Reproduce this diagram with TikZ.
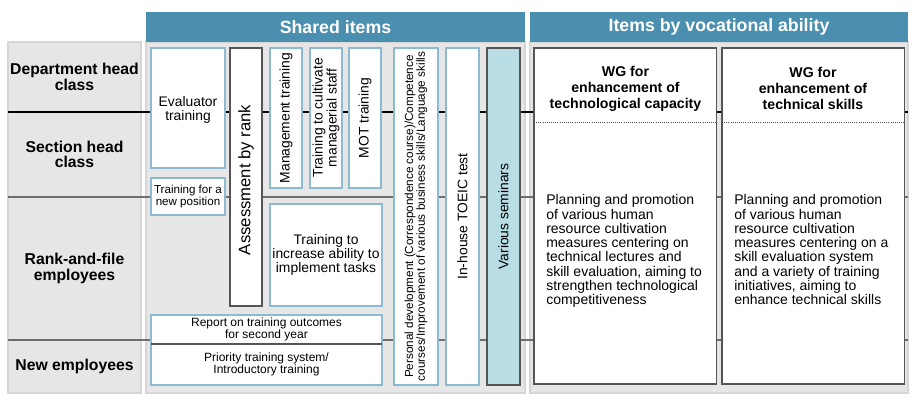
\documentclass[tikz,border=0pt]{standalone}
\usepackage{fontspec}
\setmainfont{Liberation Sans}
\definecolor{hdrblue}{HTML}{4A8FAF}
\definecolor{bggrey}{HTML}{E6E6E6}
\definecolor{bgedge}{HTML}{D6D6D6}
\definecolor{boxblue}{HTML}{8CBAD0}
\definecolor{darkedge}{HTML}{555555}
\definecolor{semfill}{HTML}{B8DDE5}
\definecolor{rowline}{HTML}{6E6E6E}
\tikzset{
  panel/.style={fill=bggrey, draw=bgedge, line width=1.1pt},
  hdr/.style={fill=hdrblue},
  hdrtext/.style={text=white, font=\bfseries\fontsize{13.3}{13.3}\selectfont},
  rowlab/.style={align=center, inner sep=0pt, font=\bfseries\fontsize{11.8}{11.8}\selectfont},
  bluebox/.style={fill=white, draw=boxblue, line width=1.1pt},
  darkbox/.style={fill=white, draw=darkedge, line width=1.1pt},
  txt/.style={align=center, inner sep=0pt, font=\fontsize{10.4}{10.4}\selectfont},
  smalltxt/.style={align=center, inner sep=0pt, font=\fontsize{9}{9.2}\selectfont},
  wghead/.style={align=center, inner sep=0pt, font=\bfseries\fontsize{10.6}{12}\selectfont},
  wgbody/.style={align=left, anchor=north west, inner sep=0pt, font=\fontsize{10.5}{10.7}\selectfont},
}
\begin{document}
\begin{tikzpicture}[x=0.75pt, y=-0.75pt]
    \useasboundingbox (0,0) rectangle (915,402);
    % grey panels and headers
    \draw[panel] (8,42) rectangle (141,393);
    \draw[panel] (146,42) rectangle (525,393);
    \draw[panel] (530,42) rectangle (908,393);
    \fill[hdr] (146,12) rectangle (525,42);
    \fill[hdr] (530,12) rectangle (908,42);
    \node[hdrtext] (shared) at (335.5,27) {Shared items};
    \node[hdrtext] (vocational) at (719,27) {Items by vocational ability};
    % row lines
    \draw[black, line width=0.8pt] (8,112) -- (908,112);
    \draw[rowline, line width=1.5pt] (8,197) -- (908,197);
    \draw[rowline, line width=1.5pt] (8,340) -- (908,340);
    \foreach \y/\nm/\txt in {77/dept/{Department head\\class}, 154.5/sect/{Section head\\class},
                             268.5/rank/{Rank-and-file\\employees}, 366.5/newemp/{New employees}} {
        \node[rowlab] (\nm) at (74.5,\y) {\txt};
    }
    % shared items
    \draw[bluebox] (151,48) rectangle (225,168);
    \node[txt] (evaluator) at (188,110) {Evaluator\\training};
    \draw[bluebox] (151,178) rectangle (225,215);
    \node[txt, font=\fontsize{8.7}{8.8}\selectfont] (newpos) at (188,196.5) {Training for a\\new position};
    \draw[darkbox, line width=1.5pt] (230,48) rectangle (262,306);
    \node[txt, rotate=90, font=\fontsize{12.5}{12.5}\selectfont] (assess) at (246,180) {Assessment by rank};
    \foreach \x/\nm/\txt in {270/mgmt/{Management training}, 310/cultivate/{Training to cultivate\\managerial staff},
                             349/mot/{MOT training}} {
        \draw[bluebox] (\x,48) rectangle (\x+32,188);
        \node[txt, rotate=90] (\nm) at (\x+16,118) {\txt};
    }
    \draw[bluebox] (270,204) rectangle (382,306);
    \node[txt] (implement) at (326,255) {Training to\\increase ability to\\implement tasks};
    \draw[bluebox] (151,315) rectangle (382,385);
    \draw[darkedge, line width=1pt] (151,344) -- (382,344);
    \node[smalltxt] (report) at (266.5,329.5) {Report on training outcomes\\for second year};
    \node[smalltxt] (priority) at (266.5,364.5) {Priority training system/\\Introductory training};
    \draw[bluebox] (394,48) rectangle (438,385);
    \node[smalltxt, rotate=90, font=\fontsize{8.8}{8.8}\selectfont] (personal) at (416,216.5)
        {Personal development (Correspondence course)/Competence\\courses/Improvement of various business skills/Language skills};
    \draw[bluebox] (446,48) rectangle (479,385);
    \node[txt, rotate=90] (toeic) at (462.5,216.5) {In-house TOEIC test};
    \draw[darkbox, fill=semfill, line width=1.4pt] (487,48) rectangle (520,385);
    \node[txt, rotate=90] (seminars) at (503.5,216.5) {Various seminars};
    % items by vocational ability
    \foreach \x in {534,722} {
        \draw[darkbox] (\x,48) rectangle (\x+182.5,384);
        \draw[darkedge, densely dotted, line width=0.6pt] (\x,122) -- (\x+182.5,122);
    }
    \node[wghead] (wgtechhead) at (625.5,88.5) {WG for\\enhancement of\\technological capacity};
    \node[wghead] (wgskillhead) at (813,88.5) {WG for\\enhancement of\\technical skills};
    \node[wgbody] (wgtechbody) at (546,194.4) {Planning and promotion\\of various human\\resource cultivation\\measures centering on\\technical lectures and\\skill evaluation, aiming to\\strengthen technological\\competitiveness};
    \node[wgbody] (wgskillbody) at (734,194.4) {Planning and promotion\\of various human\\resource cultivation\\measures centering on a\\skill evaluation system\\and a variety of training\\initiatives, aiming to\\enhance technical skills};
\end{tikzpicture}
\end{document}
